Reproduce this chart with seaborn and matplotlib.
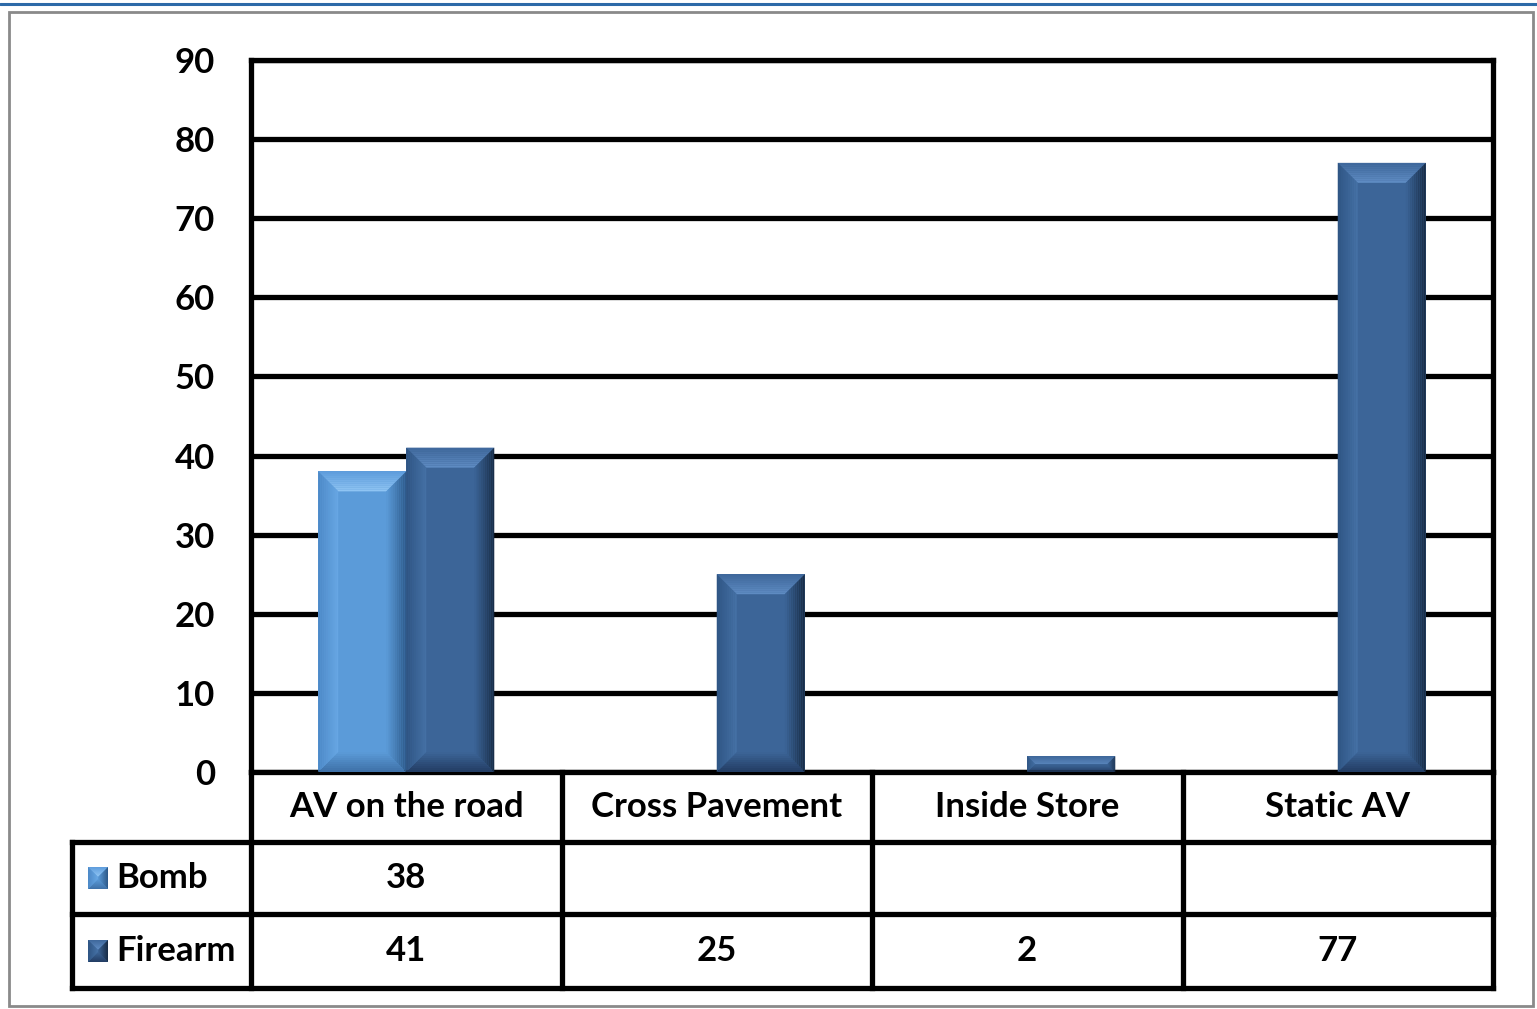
import numpy as np
import pandas as pd
import matplotlib
matplotlib.use("Agg")
import matplotlib.pyplot as plt
import seaborn as sns
from matplotlib import font_manager
from matplotlib.patches import Polygon, Rectangle
from matplotlib.lines import Line2D
from matplotlib.transforms import blended_transform_factory, IdentityTransform

# ---- data ----
categories = ["AV on the road", "Cross Pavement", "Inside Store", "Static AV"]
series = ["Bomb", "Firearm"]
bomb = [38, None, None, None]
firearm = [41, 25, 2, 77]
yticks = [0, 10, 20, 30, 40, 50, 60, 70, 80, 90]

bomb_color = "#5b9bd9"
firearm_color = "#3c6598"

# ---- fonts ----
sns.set_theme(style="white")
available = {f.name for f in font_manager.fontManager.ttflist}
if "Liberation Sans Narrow" in available:
    family, fs = "Liberation Sans Narrow", 28
else:
    family, fs = "Lato", 25
plt.rcParams["font.family"] = [family, "DejaVu Sans"]

W, H = 1537, 1009
fig = plt.figure(figsize=(W / 100, H / 100), dpi=100)
fig.patch.set_facecolor("white")

# outer frame and top rule
fig.add_artist(Line2D([0, 1], [1 - 4 / H, 1 - 4 / H], transform=fig.transFigure,
                      color="#2d6aa8", lw=2.2))
fig.add_artist(Rectangle((9 / W, 1 - 1006 / H), (1533 - 9) / W, (1006 - 12) / H,
                         transform=fig.transFigure, fill=False,
                         edgecolor="#8a8a8a", lw=2.0))

ax = fig.add_axes([251 / W, 1 - 772 / H, 1242 / W, 712 / H])

rows = []
for cat, b, f in zip(categories, bomb, firearm):
    if b is not None:
        rows.append({"Category": cat, "Type": "Bomb", "Count": b})
    if f is not None:
        rows.append({"Category": cat, "Type": "Firearm", "Count": f})
df = pd.DataFrame(rows)

sns.barplot(data=df, x="Category", y="Count", hue="Type", order=categories,
            hue_order=series, palette=[bomb_color, firearm_color],
            width=0.567, saturation=1, legend=False, ax=ax, linewidth=0)

ax.set_xlim(-0.5, 3.5)
ax.set_ylim(0, 90)
ax.set_yticks(yticks)
ax.set_yticklabels([str(t) for t in yticks], fontsize=fs, fontweight="bold",
                   color="black")
ax.set_xticks([])
ax.set_xlabel("")
ax.set_ylabel("")
ax.tick_params(axis="y", length=0, pad=26)
ax.yaxis.grid(True, color="black", lw=3.8)
ax.set_axisbelow(True)
for s in ax.spines.values():
    s.set_color("black")
    s.set_linewidth(3.8)

fig.canvas.draw()


def lerp(c1, c2, t):
    a = np.array(matplotlib.colors.to_rgb(c1))
    b = np.array(matplotlib.colors.to_rgb(c2))
    return tuple(a + (b - a) * t)


def shaded_face(target, p0, p1, q0, q1, c_out, c_in, n=10, z=3):
    p0, p1, q0, q1 = map(np.array, (p0, p1, q0, q1))
    for i in range(n):
        t0, t1 = i / n, (i + 1) / n
        a0 = p0 + (q0 - p0) * t0
        a1 = p1 + (q1 - p1) * t0
        b0 = p0 + (q0 - p0) * t1
        b1 = p1 + (q1 - p1) * t1
        poly = Polygon([a0, a1, b1, b0], closed=True, transform=IdentityTransform(),
                       facecolor=lerp(c_out, c_in, (i + 0.5) / n), edgecolor="none",
                       zorder=z, clip_on=False)
        target.add_artist(poly)


shades = {
    bomb_color: dict(top=("#5d9cdc", "#92c6f4"), left=("#4c88c6", "#68a8e4"),
                     right=("#2c5888", bomb_color), bottom=("#3d70a6", bomb_color)),
    firearm_color: dict(top=("#3e679b", "#608dc4"), left=("#2e5382", "#4571a6"),
                        right=("#172b45", firearm_color), bottom=("#223c62", firearm_color)),
}


def bevel(target, x0, y0, x1, y1, base, size, z=3):
    b = min(size, (y1 - y0) / 2, (x1 - x0) / 2)
    sh = shades[base]
    shaded_face(target, (x0, y1), (x1, y1), (x0 + b, y1 - b), (x1 - b, y1 - b), *sh["top"], z=z)
    shaded_face(target, (x0, y0), (x1, y0), (x0 + b, y0 + b), (x1 - b, y0 + b), *sh["bottom"], z=z)
    shaded_face(target, (x0, y0), (x0, y1), (x0 + b, y0 + b), (x0 + b, y1 - b), *sh["left"], z=z)
    shaded_face(target, (x1, y0), (x1, y1), (x1 - b, y0 + b), (x1 - b, y1 - b), *sh["right"], z=z)


# beveled faces on every bar, taken from the bar geometry
for patch in ax.patches:
    h = patch.get_height()
    if not np.isfinite(h) or h <= 0:
        continue
    fc = matplotlib.colors.to_hex(patch.get_facecolor())
    base = bomb_color if fc.lower() == bomb_color else firearm_color
    x, w = patch.get_x(), patch.get_width()
    (dx0, dy0), (dx1, dy1) = ax.transData.transform([(x, 0), (x + w, h)])
    bevel(ax, dx0, dy0, dx1, dy1, base, 20)

# ---- data table under the plot ----
bt = blended_transform_factory(ax.transData, ax.transAxes)
px = 712.0
y_head = -70 / px
y_row1 = -142 / px
y_row2 = -216 / px
x_left = (72 - 251) / 1242
lw_t = 3.8

for yy in (y_head, y_row1, y_row2):
    ax.add_line(Line2D([x_left, 1], [yy, yy], transform=ax.transAxes, color="black",
                       lw=lw_t, clip_on=False, solid_capstyle="projecting"))
for xb in np.arange(-0.5, len(categories), 1.0):
    ax.add_line(Line2D([xb, xb], [0, y_row2], transform=bt, color="black",
                       lw=lw_t, clip_on=False, solid_capstyle="projecting"))
ax.add_line(Line2D([x_left, x_left], [y_head, y_row2], transform=ax.transAxes,
                   color="black", lw=lw_t, clip_on=False, solid_capstyle="projecting"))

for i, cat in enumerate(categories):
    ax.text(i, (0 + y_head) / 2, cat, transform=bt, ha="center", va="center",
            fontsize=fs, fontweight="bold", color="black")
    if bomb[i] is not None:
        ax.text(i, (y_head + y_row1) / 2, str(bomb[i]), transform=bt, ha="center",
                va="center", fontsize=fs, fontweight="bold", color="black")
    if firearm[i] is not None:
        ax.text(i, (y_row1 + y_row2) / 2, str(firearm[i]), transform=bt, ha="center",
                va="center", fontsize=fs, fontweight="bold", color="black")

label_x = (116 - 251) / 1242
for name, (ya, yb), col in zip(series, [(y_head, y_row1), (y_row1, y_row2)],
                               [bomb_color, firearm_color]):
    yc = (ya + yb) / 2
    ax.text(label_x, yc, name, transform=ax.transAxes, ha="left", va="center",
            fontsize=fs, fontweight="bold", color="black")
    # legend key drawn as a small beveled square
    kx0, ky = ax.transAxes.transform(((88 - 251) / 1242, yc))
    key = Rectangle((kx0, ky - 11), 20, 22, transform=IdentityTransform(),
                    facecolor=col, edgecolor="none", zorder=3, clip_on=False)
    ax.add_artist(key)
    bevel(ax, kx0, ky - 11, kx0 + 20, ky + 11, col, 10, z=4)

fig.savefig("out.png", dpi=100, facecolor="white")
